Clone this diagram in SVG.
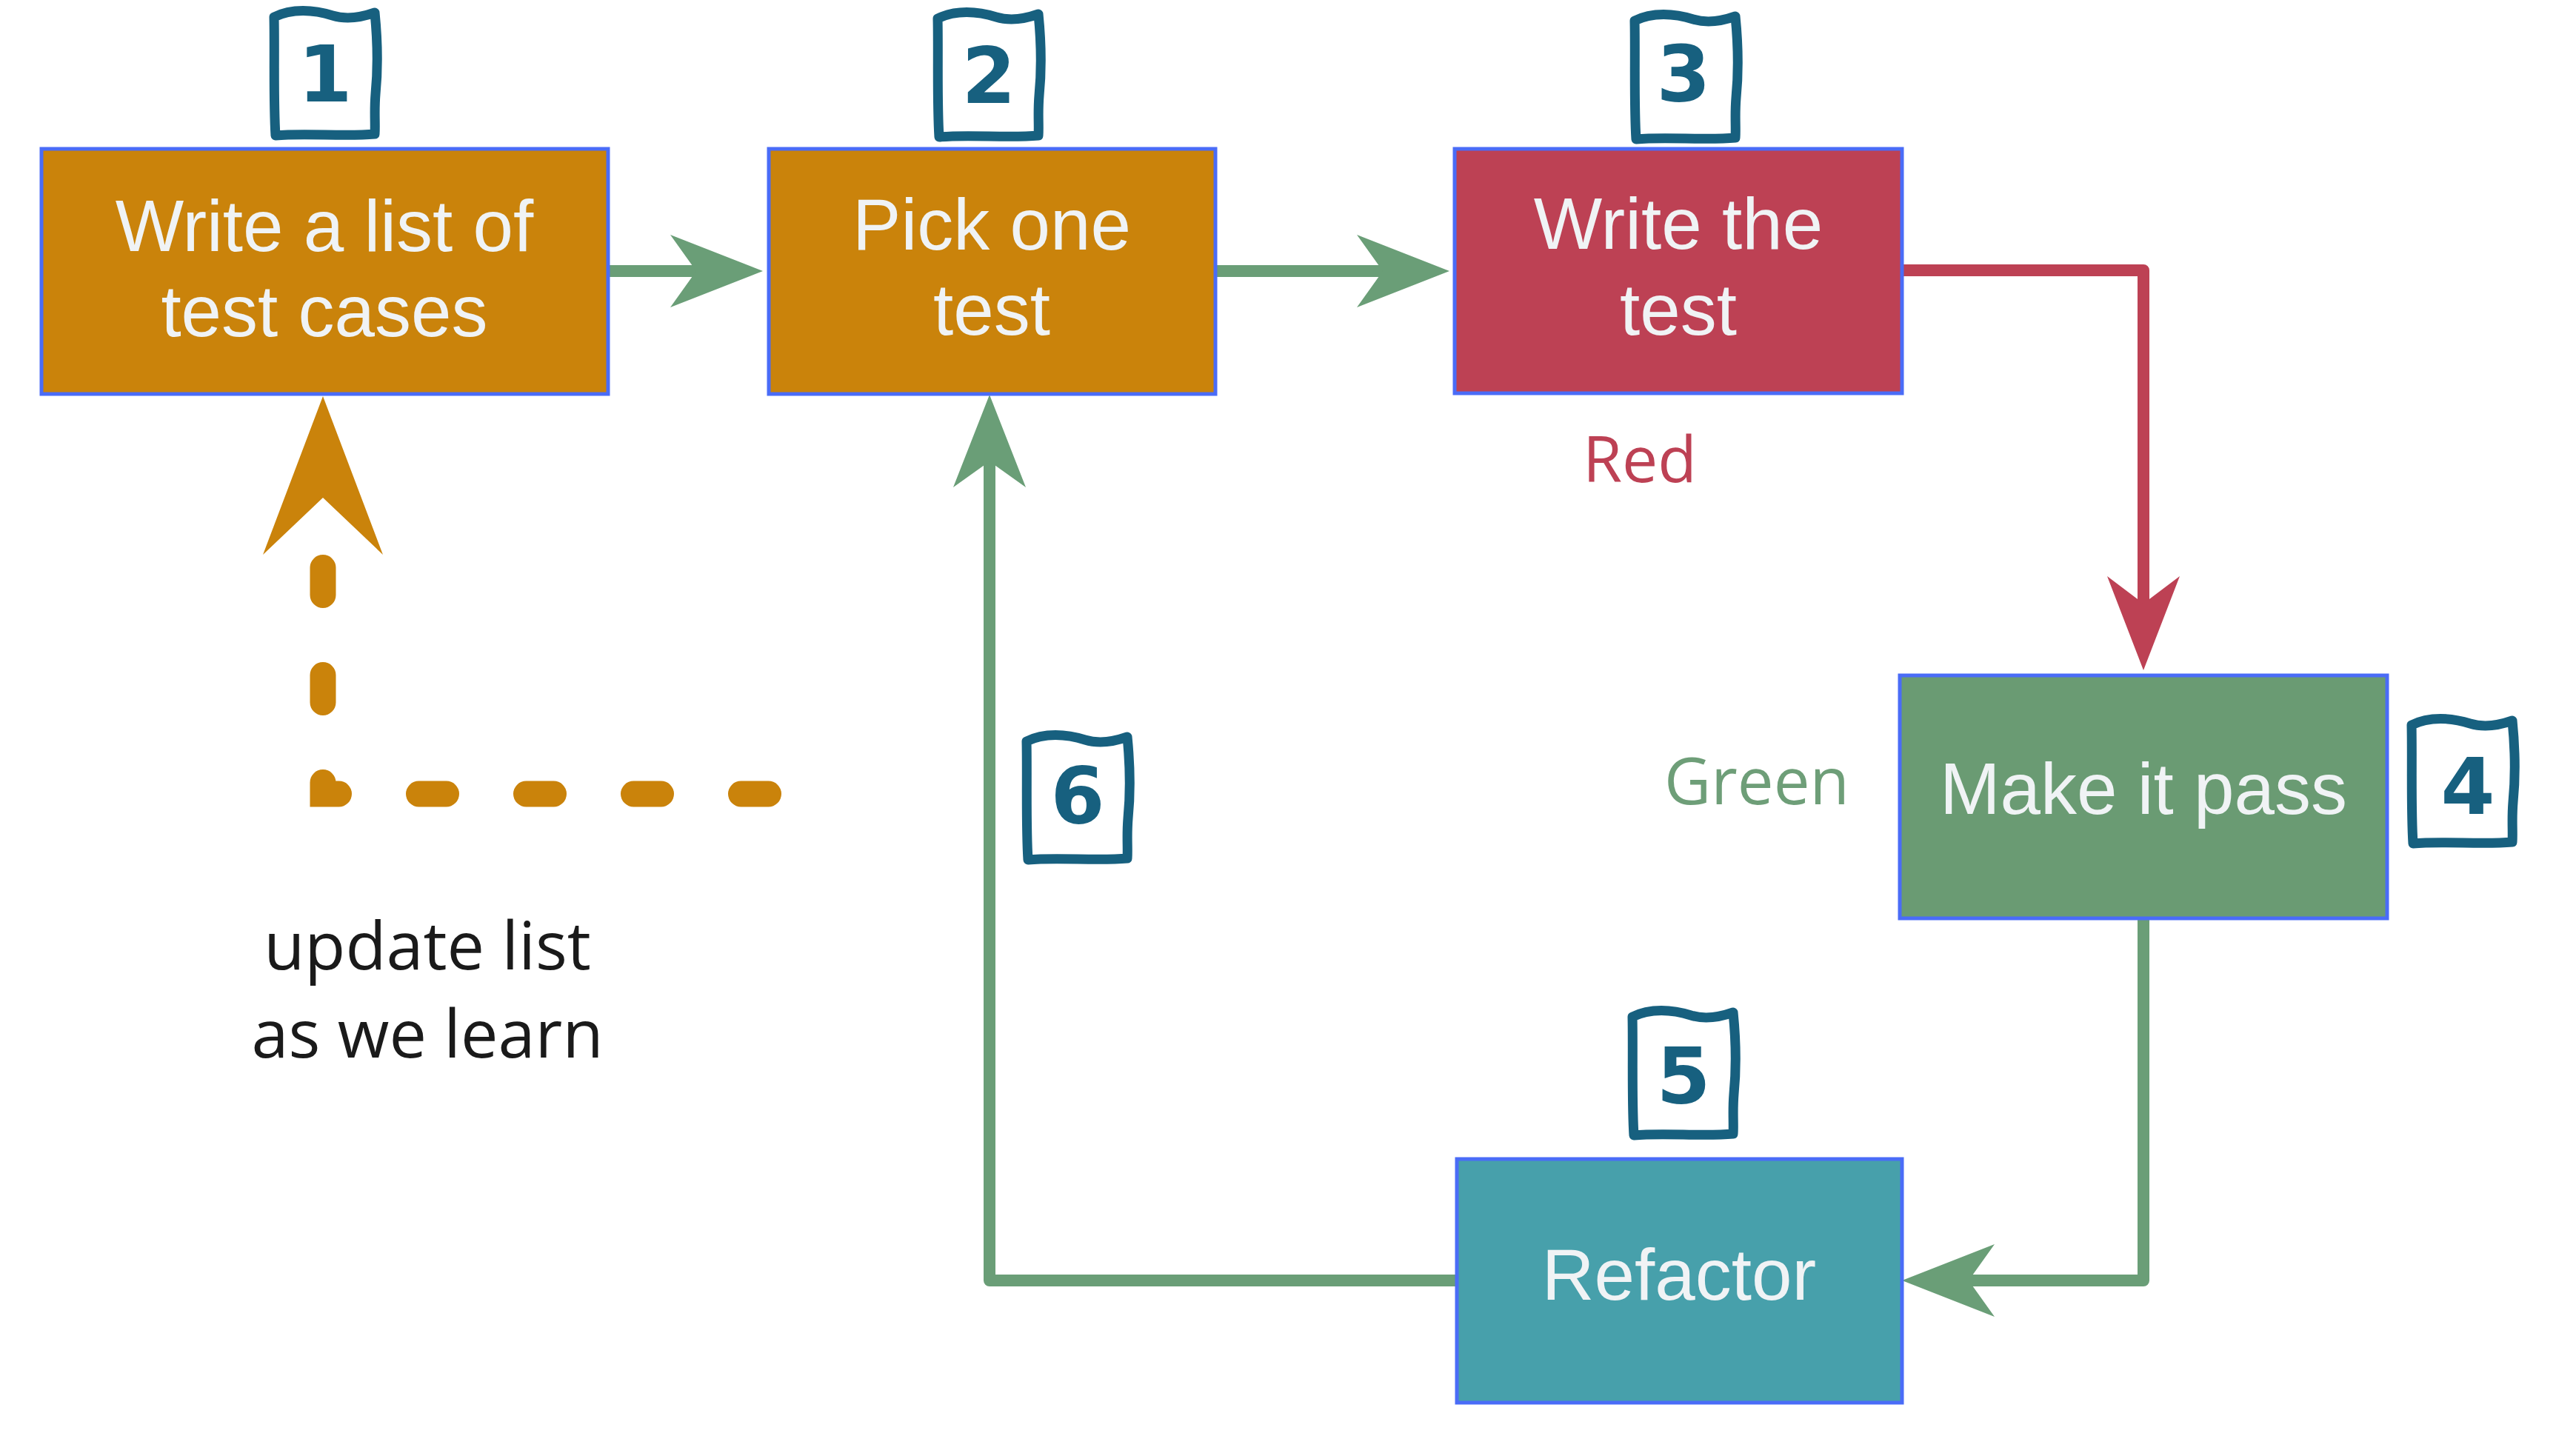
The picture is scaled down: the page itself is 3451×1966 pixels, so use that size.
<svg xmlns="http://www.w3.org/2000/svg" width="3451" height="1966" viewBox="0 0 3451 1966">
<style>
.box{stroke:#4a6cf7;stroke-width:5}
.lbl{font-family:"Liberation Sans",Arial,sans-serif;font-size:98px;fill:#f0f3f5;text-anchor:middle}
.note{font-family:"Open Sans","Noto Sans",sans-serif;text-anchor:middle}
.badge{fill:none;stroke:#17607f;stroke-width:13;stroke-linejoin:round;stroke-linecap:round}
.digit{font-family:"DejaVu Sans",sans-serif;font-weight:bold;font-size:105px;fill:#17607f;text-anchor:middle}
.g{fill:none;stroke:#6a9e77;stroke-width:16;stroke-linejoin:round}
.r{fill:none;stroke:#bd4154;stroke-width:16;stroke-linejoin:round}
.o{fill:none;stroke:#ca830b;stroke-width:35;stroke-linecap:round;stroke-dasharray:37 108}
</style>
<defs>
<path id="badge" d="M6,16 C30,4 60,6 85,14 C105,20 125,16 142,10 C146,50 146,90 143,120 C141,145 143,160 142,174 C100,178 50,172 8,176 C5,130 7,60 6,16 Z"/>
<marker id="ag" markerUnits="userSpaceOnUse" viewBox="-130 -52 135 104" markerWidth="135" markerHeight="104" refX="-90" refY="0" orient="auto">
<path d="M0,0 L-125,-49 L-90,0 L-125,49 Z" fill="#6a9e77"/>
</marker>
<marker id="ar" markerUnits="userSpaceOnUse" viewBox="-130 -52 135 104" markerWidth="135" markerHeight="104" refX="-90" refY="0" orient="auto">
<path d="M0,0 L-127,-49 L-90,0 L-127,49 Z" fill="#bd4154"/>
</marker>
<marker id="ao" markerUnits="userSpaceOnUse" viewBox="-220 -85 225 170" markerWidth="225" markerHeight="170" refX="-137" refY="0" orient="auto">
<path d="M0,0 L-214,-81 L-137,0 L-214,81 Z" fill="#ca830b"/>
</marker>
</defs>
<rect width="3451" height="1966" fill="#ffffff"/>
<g id="connectors">
<path class="g" d="M821,366 L940,366" marker-end="url(#ag)"/>
<path class="g" d="M1641,366 L1867,366" marker-end="url(#ag)"/>
<path class="r" d="M2568,365 L2894,365 L2894,815" marker-end="url(#ar)"/>
<path class="g" d="M2894,1240 L2894,1729 L2658,1729" marker-end="url(#ag)"/>
<path class="g" d="M1967,1729 L1336,1729 L1336,623" marker-end="url(#ag)"/>
<path class="o" d="M1037.5,1072 L436,1072 L436,672"/>
<path fill="none" stroke="none" d="M436,700 L436,672" marker-end="url(#ao)"/>
</g>
<g id="node1">
<rect class="box" x="56" y="201" width="765" height="331" fill="#ca830b"/>
<text class="lbl" x="438" y="339">Write a list of</text>
<text class="lbl" x="438" y="454">test cases</text>
</g>
<g id="node2">
<rect class="box" x="1038" y="201" width="603" height="331" fill="#ca830b"/>
<text class="lbl" x="1339" y="337">Pick one</text>
<text class="lbl" x="1339" y="452">test</text>
</g>
<g id="node3">
<rect class="box" x="1964" y="201" width="604" height="330" fill="#bd4154"/>
<text class="lbl" x="2266" y="336">Write the</text>
<text class="lbl" x="2266" y="452">test</text>
</g>
<g id="node4">
<rect class="box" x="2565" y="912" width="658" height="328" fill="#6a9b73"/>
<text class="lbl" x="2894" y="1099">Make it pass</text>
</g>
<g id="node5">
<rect class="box" x="1967" y="1565" width="601" height="329" fill="#47a0ab"/>
<text class="lbl" x="2267" y="1755">Refactor</text>
</g>
<g id="label-red"><text class="note" x="2214" y="651" font-size="86" fill="#bd4154">Red</text></g>
<g id="label-green"><text class="note" x="2372" y="1086" font-size="87" fill="#6e9e78">Green</text></g>
<g id="label-update">
<text class="note" x="577" y="1309" font-size="90" fill="#1a1a1a">update list</text>
<text class="note" x="577" y="1428" font-size="90" fill="#1a1a1a">as we learn</text>
</g>
<g id="badge1"><use href="#badge" class="badge" transform="translate(364,7)"/><text class="digit" x="439" y="137">1</text></g>
<g id="badge2"><use href="#badge" class="badge" transform="translate(1260,9)"/><text class="digit" x="1335" y="139">2</text></g>
<g id="badge3"><use href="#badge" class="badge" transform="translate(2201,12)"/><text class="digit" x="2273" y="137">3</text></g>
<g id="badge4"><use href="#badge" class="badge" transform="translate(3250,963)"/><text class="digit" x="3332" y="1099">4</text></g>
<g id="badge5"><use href="#badge" class="badge" transform="translate(2198,1357)"/><text class="digit" x="2273" y="1490">5</text></g>
<g id="badge6"><use href="#badge" class="badge" transform="translate(1380,985)"/><text class="digit" x="1455" y="1112">6</text></g>
</svg>
